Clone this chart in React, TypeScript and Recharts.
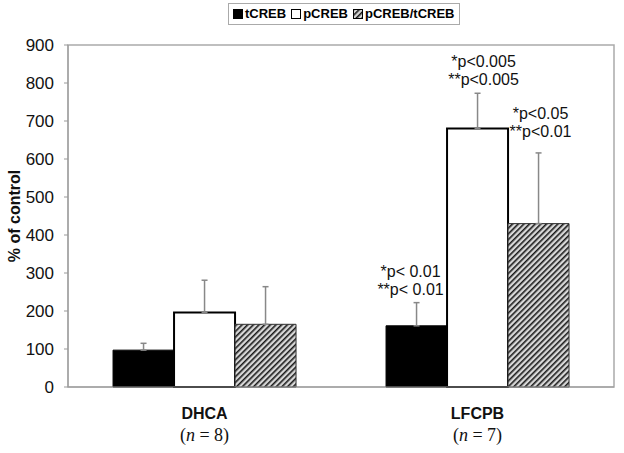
import { Bar, BarChart, XAxis, YAxis, Legend, ErrorBar, LabelList } from "recharts"

const groups = ["DHCA", "LFCPB"]
const groupN = ["8", "7"]
const tcreb = [97, 161]
const pcreb = [196, 680]
const ratio = [165, 430]
const tcrebErr = [18, 61]
const pcrebErr = [85, 93]
const ratioErr = [99, 186]
const yTicks = [0, 100, 200, 300, 400, 500, 600, 700, 800, 900]
const tcrebNotes = [[], ["*p< 0.01", "**p< 0.01"]]
const pcrebNotes = [[], ["*p<0.005", "**p<0.005"]]
const ratioNotes = [[], ["*p<0.05", "**p<0.01"]]

const data = groups.map((g, i) => ({
  group: g,
  n: groupN[i],
  tCREB: tcreb[i],
  pCREB: pcreb[i],
  ratio: ratio[i],
  tErr: [0, tcrebErr[i]],
  pErr: [0, pcrebErr[i]],
  rErr: [0, ratioErr[i]],
}))

const font = "Arial, 'Liberation Sans', sans-serif"

function makeNote(notes: string[][], errs: number[], gap: number, shift: number) {
  return (props: any) => {
    const { x, y, width, height, index, value } = props
    const lines = notes[index]
    if (!lines || !lines.length) return null
    const perUnit = height / value
    const top = y - errs[index] * perUnit
    const cx = x + width / 2 + shift
    return (
      <text x={cx} textAnchor="middle" fontFamily={font} fontSize={16} fill="#111">
        <tspan x={cx} y={top - gap - 18}>{lines[0]}</tspan>
        <tspan x={cx} y={top - gap}>{lines[1]}</tspan>
      </text>
    )
  }
}

function GroupTick(props: any) {
  const { x, y, payload, index } = props
  return (
    <g>
      <text x={x} y={y + 24} textAnchor="middle" fontFamily={font} fontWeight="bold" fontSize={16} fill="#111">
        {payload.value}
      </text>
      <text x={x} y={y + 46} textAnchor="middle" fontFamily="'Liberation Serif', 'Times New Roman', serif" fontSize={18} fill="#111">
        (<tspan fontStyle="italic">n</tspan> = {groupN[index]})
      </text>
    </g>
  )
}

function LegendBox() {
  const items = [
    { label: "tCREB", fill: "#000" },
    { label: "pCREB", fill: "#fff" },
    { label: "pCREB/tCREB", fill: "url(#hatch)" },
  ]
  return (
    <div style={{ border: "1px solid #aaa", padding: "2px 4px", display: "flex", gap: 5, fontFamily: font, fontWeight: "bold", fontSize: 13, background: "#fff", alignItems: "center", lineHeight: "16px" }}>
      {items.map((it) => (
        <span key={it.label} style={{ display: "flex", alignItems: "center", gap: 2 }}>
          <svg width={10} height={10}>
            <rect x={0.5} y={0.5} width={9} height={9} fill={it.fill} stroke="#000" />
          </svg>
          {it.label}
        </span>
      ))}
    </div>
  )
}

export default function App() {
  return (
    <div style={{ background: "#fff" }}>
      <style>{"body{margin:0}"}</style>
      <BarChart width={624} height={453} data={data} margin={{ top: 45, right: 10, bottom: 36, left: 0 }} barCategoryGap="16.5%" barGap={0}>
        <defs>
          <pattern id="hatch" width={4} height={4} patternUnits="userSpaceOnUse" patternTransform="rotate(45)">
            <rect width={4} height={4} fill="#d8d8d8" />
            <line x1={0} y1={0} x2={0} y2={4} stroke="#1a1a1a" strokeWidth={3.2} />
          </pattern>
        </defs>
        <rect x={68} y={45} width={546} height={342} fill="none" stroke="#aaa" strokeWidth={1.5} />
        <XAxis dataKey="group" stroke="#999" tickLine={false} tick={<GroupTick />} />
        <YAxis
          domain={[0, 900]}
          ticks={yTicks}
          width={68}
          stroke="#999"
          tickSize={4}
          tickMargin={10}
          tick={{ fontFamily: font, fontSize: 17, fill: "#111" }}
          label={{ value: "% of control", angle: -90, position: "insideLeft", offset: 14, style: { fontFamily: font, fontWeight: "bold", fontSize: 16, fill: "#111", textAnchor: "middle" } }}
          interval={0}
        />
        <Legend layout="horizontal" verticalAlign="middle" content={<LegendBox />} wrapperStyle={{ top: 3, left: 228, width: "auto" }} />
        <Bar dataKey="tCREB" name="tCREB" fill="#000" stroke="#000" strokeWidth={1} isAnimationActive={false}>
          <ErrorBar dataKey="tErr" stroke="#888" strokeWidth={1.5} width={3} isAnimationActive={false} />
          <LabelList dataKey="tCREB" content={makeNote(tcrebNotes, tcrebErr, 8, -6)} />
        </Bar>
        <Bar dataKey="pCREB" name="pCREB" fill="#fff" stroke="#000" strokeWidth={2} isAnimationActive={false}>
          <ErrorBar dataKey="pErr" stroke="#888" strokeWidth={1.5} width={3} isAnimationActive={false} />
          <LabelList dataKey="pCREB" content={makeNote(pcrebNotes, pcrebErr, 8, 6)} />
        </Bar>
        <Bar dataKey="ratio" name="pCREB/tCREB" fill="url(#hatch)" stroke="#333" strokeWidth={1} isAnimationActive={false}>
          <ErrorBar dataKey="rErr" stroke="#888" strokeWidth={1.5} width={3} isAnimationActive={false} />
          <LabelList dataKey="ratio" content={makeNote(ratioNotes, ratioErr, 16, 2)} />
        </Bar>
      </BarChart>
    </div>
  )
}
